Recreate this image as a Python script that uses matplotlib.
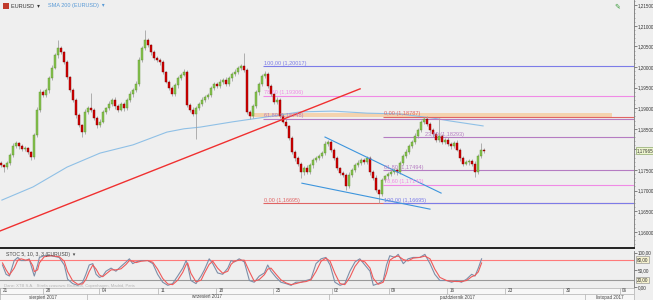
import matplotlib
matplotlib.use('Agg')
import matplotlib.pyplot as plt
import matplotlib.transforms as mtransforms
from matplotlib.patches import Rectangle
from matplotlib.ticker import MultipleLocator, FuncFormatter

plt.rcParams['font.family'] = ['Liberation Sans', 'DejaVu Sans']

W, H = 653, 300

# EURUSD candles (one close per candle, open = previous close)
open0 = 1.1767
closes = [
    1.1762, 1.1757, 1.1767, 1.1786, 1.1808, 1.1816, 1.1808, 1.1801, 1.1803, 1.1794,
    1.1782, 1.1835, 1.1896, 1.1939, 1.1932, 1.1944, 1.1973, 1.1998, 1.2029, 1.2046,
    1.2036, 1.2012, 1.1976, 1.1944, 1.1920, 1.1883, 1.1859, 1.1842, 1.1891, 1.1900,
    1.1896, 1.1876, 1.1859, 1.1867, 1.1891, 1.1900, 1.1910, 1.1920, 1.1905, 1.1896,
    1.1910, 1.1900, 1.1920, 1.1934, 1.1944, 1.1959, 1.2017, 1.2046, 1.2066, 1.2053,
    1.2036, 1.2022, 1.2017, 1.2012, 1.1988, 1.1964, 1.1949, 1.1934, 1.1956, 1.1973,
    1.1981, 1.1988, 1.1908, 1.1896, 1.1886, 1.1900, 1.1910, 1.1920, 1.1927, 1.1932,
    1.1949, 1.1959, 1.1954, 1.1964, 1.1968, 1.1959, 1.1973, 1.1983, 1.1988, 1.1998,
    1.2002, 1.1993, 1.1891, 1.1881, 1.1905, 1.1939, 1.1959, 1.1978, 1.1983, 1.1954,
    1.1934, 1.1915, 1.1920, 1.1881, 1.1867, 1.1857, 1.1828, 1.1794, 1.1779, 1.1765,
    1.1745, 1.1755, 1.1745, 1.1762, 1.1774, 1.1779, 1.1784, 1.1791, 1.1813, 1.1818,
    1.1799, 1.1779, 1.1755, 1.1743, 1.1738, 1.1711, 1.1738, 1.1750, 1.1762, 1.1767,
    1.1774, 1.1769, 1.1779, 1.1745, 1.1731, 1.1701, 1.1692, 1.1726, 1.1735, 1.1740,
    1.1745, 1.1750, 1.1745, 1.1767, 1.1784, 1.1794, 1.1808, 1.1818, 1.1833, 1.1847,
    1.1867, 1.1874, 1.1862, 1.1847, 1.1837, 1.1823, 1.1833, 1.1818, 1.1823, 1.1813,
    1.1808, 1.1816, 1.1799, 1.1779, 1.1765, 1.1769, 1.1772, 1.1765, 1.1745, 1.1784,
    1.1799, 1.17965,
]
# wick lengths in pips above / below the body
up_wick = [
    4, 3, 6, 5, 8, 4, 3, 5, 6, 4,
    3, 5, 6, 8, 4, 6, 5, 7, 4, 20,
    5, 4, 6, 3, 5, 4, 6, 3, 8, 6,
    37, 5, 4, 6, 5, 4, 7, 5, 6, 4,
    5, 6, 4, 7, 5, 6, 8, 6, 24, 5,
    4, 6, 5, 4, 6, 3, 5, 4, 6, 5,
    4, 6, 5, 4, 6, 5, 4, 6, 5, 4,
    6, 5, 4, 6, 5, 7, 4, 5, 6, 4,
    6, 32, 4, 5, 6, 4, 5, 6, 8, 4,
    5, 4, 6, 5, 4, 6, 3, 5, 4, 6,
    4, 5, 6, 4, 5, 6, 4, 5, 8, 6,
    4, 5, 6, 3, 5, 4, 6, 5, 4, 8,
    5, 4, 6, 5, 4, 6, 3, 5, 4, 6,
    5, 4, 6, 5, 4, 6, 5, 4, 6, 5,
    4, 5, 6, 5, 4, 6, 43, 5, 4, 6,
    5, 4, 6, 5, 4, 6, 5, 4, 6, 5,
    17, 4,
]
dn_wick = [
    5, 12, 4, 6, 5, 4, 6, 5, 4, 6,
    7, 5, 4, 6, 5, 4, 6, 5, 4, 6,
    5, 4, 6, 5, 4, 6, 5, 12, 4, 6,
    5, 4, 6, 5, 4, 6, 5, 4, 6, 5,
    4, 6, 5, 4, 6, 5, 4, 6, 5, 4,
    6, 5, 4, 6, 5, 4, 6, 5, 4, 6,
    5, 4, 6, 5, 4, 60, 5, 4, 6, 5,
    4, 6, 5, 4, 6, 5, 4, 6, 5, 4,
    6, 5, 4, 8, 5, 4, 6, 5, 4, 6,
    5, 4, 6, 5, 4, 6, 5, 4, 6, 5,
    15, 6, 5, 4, 6, 5, 4, 6, 5, 4,
    6, 5, 4, 6, 5, 10, 4, 6, 5, 4,
    6, 5, 4, 6, 5, 4, 22, 5, 4, 6,
    5, 4, 6, 5, 4, 6, 5, 4, 6, 5,
    4, 6, 5, 4, 6, 5, 4, 6, 5, 4,
    6, 5, 4, 6, 5, 4, 6, 5, 12, 4,
    6, 5,
]

# SMA 200 (candle index, value)
sma_idx = [0.3, 10.7, 22, 33, 44, 55.3, 61, 66.3, 77.3, 88.7, 99.7, 110.7, 122, 133, 144, 149.7, 160.7]
sma_val = [1.1677, 1.1709, 1.1757, 1.1791, 1.1811, 1.1842, 1.1850, 1.1854, 1.1867, 1.1879,
           1.1891, 1.1893, 1.1888, 1.1886, 1.1876, 1.1869, 1.1857]

# trend lines drawn on the chart
red_line_x, red_line_y = [-0.33, 119.7], [1.1602, 1.1947]
chan_up_x, chan_up_y = [108, 146.7], [1.1830, 1.1694]
chan_lo_x, chan_lo_y = [100.3, 143], [1.1718, 1.1655]

# supply zone
zone_x = [83, 203.7]
zone_y = [1.18787, 1.18890]

# fibonacci retracements
fib1_start = 87.3
fib1_pct = [100.0, 78.6, 61.8, 0.0]
fib1_val = [1.20017, 1.19306, 1.18748, 1.16695]
fib2_start = 127.3
fib2_pct = [0.0, 23.6, 61.8, 78.6, 100.0]
fib2_val = [1.18787, 1.18293, 1.17494, 1.17143, 1.16695]
fib2_label_x = [127.5, 141.3, 127.5, 127.5, 127.5]

# stochastic oscillator
stoch_idx = [0.5, 1.7, 2.8, 4.4, 5.6, 6.7, 8.3, 9.4, 10.6, 11.1, 12.2, 12.8, 14.4, 16.7, 19.4,
             21.1, 22.2, 23.9, 25.6, 27.2, 28.3, 29.4, 30.6, 31.7, 32.8, 33.9, 35, 36.7, 38.3,
             40, 41.7, 42.8, 43.9, 45, 46.7, 48.9, 50.6, 52.2, 53.9, 55.6, 57.2, 58.9, 60.6,
             61.7, 62.2, 63.3, 65, 66.7, 67.8, 69.4, 70.6, 72.2, 73.9, 75.6, 76.7, 77.8, 79.4,
             81.1, 82.8, 84.4, 86.1, 87.8, 88.9, 90, 91.7, 93.3, 95, 96.7, 98.3, 100, 101.7,
             103.3, 105, 106.7, 108.3, 109.7, 111.3, 113, 114.6, 116.3, 118, 119.6, 121.3, 123,
             124.1, 125.7, 127.4, 128.5, 129.6, 131.3, 132.4, 134.1, 135.7, 137.4, 139.6, 141.3,
             143, 144.6, 146.3, 148.5, 150.2, 151.9, 153.5, 155.2, 156.9, 158, 159.1, 160.2]
stoch_k = [64, 37, 32, 77, 86, 77, 77, 82, 46, 32, 64, 86, 91, 91, 86,
           64, 23, 10, 5, 14, 37, 64, 68, 37, 28, 32, 46, 55, 46,
           60, 73, 82, 68, 73, 77, 77, 68, 37, 14, 5, 10, 32, 55,
           77, 64, 19, 10, 32, 50, 82, 68, 41, 37, 55, 77, 73, 82,
           73, 19, 14, 32, 41, 64, 46, 28, 14, 10, 5, 14, 14, 19,
           23, 68, 82, 86, 64, 14, 5, 10, 46, 73, 82, 64, 46,
           5, 10, 19, 64, 91, 86, 95, 68, 82, 86, 86, 95,
           68, 37, 19, 19, 14, 19, 14, 23, 37, 32, 55, 82]
stoch_d = [70, 50, 35, 55, 78, 82, 78, 80, 62, 45, 50, 70, 88, 91, 88,
           75, 45, 18, 8, 9, 22, 45, 64, 52, 35, 30, 38, 50, 50,
           53, 66, 77, 75, 71, 75, 77, 72, 52, 25, 9, 7, 20, 43,
           65, 70, 40, 15, 20, 40, 66, 75, 55, 40, 46, 66, 75, 78,
           78, 45, 17, 22, 36, 52, 55, 37, 21, 12, 7, 10, 14, 16,
           21, 45, 75, 84, 75, 40, 10, 7, 28, 60, 78, 73, 55,
           25, 8, 14, 40, 78, 88, 90, 80, 76, 84, 86, 90,
           82, 52, 28, 19, 17, 16, 16, 19, 30, 34, 44, 70]

# time axis
date_pos = [-0.3, 14, 32.7, 52.3, 71.7, 90.7, 110.3, 129.3, 148.7, 168, 187.3, 206.3]
date_lbl = ['21', '28', '04', '11', '18', '25', '02', '09', '16', '23', '30', '06']
month_sep = [28.7, 109.3, 194.7]
month_pos = [14, 68.7, 152, 203]
month_lbl = ['sierpień 2017', 'wrzesień 2017', 'październik 2017', 'listopad 2017']

BG = '#efefef'
fig = plt.figure(figsize=(W / 100, H / 100), dpi=100, facecolor=BG)
XL = (-1 / 3, 211)
YL = (1.15607, 1.21626)

ax = fig.add_axes([0, 52 / H, 634 / W, 248 / H], facecolor=BG)
ax.set_xlim(*XL)
ax.set_ylim(*YL)

fs = 4.0   # labels on the chart
fa = 3.3   # right-hand axis labels


def fmt_price(v):
    return f'{v:.5f}'.replace('.', ',')


# candles
opens = [open0] + closes[:-1]
for i, (o, c) in enumerate(zip(opens, closes)):
    hi = max(o, c) + up_wick[i] / 1e4
    lo = min(o, c) - dn_wick[i] / 1e4
    ax.vlines(i, lo, hi, color='#a3a3a3', lw=0.6, zorder=3)
    col = '#86c34e' if c >= o else '#d40000'
    ec = '#5e8f30' if c >= o else '#7a0000'
    ax.bar(i, max(abs(c - o), 0.00008), bottom=min(o, c), width=0.6,
           color=col, edgecolor=ec, lw=0.3, zorder=4)

ax.plot(sma_idx, sma_val, color='#8fc0e6', lw=0.8, zorder=2)
ax.plot(red_line_x, red_line_y, color='#f03030', lw=1.0, zorder=5)
ax.plot(chan_up_x, chan_up_y, color='#3d95dd', lw=0.8, zorder=5)
ax.plot(chan_lo_x, chan_lo_y, color='#3d95dd', lw=0.8, zorder=5)

ax.add_patch(Rectangle((zone_x[0], zone_y[0]), zone_x[1] - zone_x[0], zone_y[1] - zone_y[0],
                       facecolor='#f6cfa3', edgecolor='none', alpha=0.85, zorder=1))


def fib_color(p):
    if p == 100.0:
        return '#7c7ce8'
    if p == 78.6:
        return '#f08ae6'
    if p == 0.0:
        return '#e06464'
    return '#b57cc2'


for p, v in zip(fib1_pct, fib1_val):
    ax.hlines(v, fib1_start, XL[1], color=fib_color(p), lw=0.8, zorder=2)
    ax.text(fib1_start + 0.5, v + 0.00015, f'{p:.2f}'.replace('.', ',') + ' (' + fmt_price(v) + ')',
            fontsize=fs, color=fib_color(p), va='bottom', ha='left', zorder=6)
for p, v, lx in zip(fib2_pct, fib2_val, fib2_label_x):
    ax.hlines(v, fib2_start, XL[1], color=fib_color(p), lw=0.8, zorder=2)
    ax.text(lx, v + 0.00015, f'{p:.2f}'.replace('.', ',') + ' (' + fmt_price(v) + ')',
            fontsize=fs, color=fib_color(p), va='bottom', ha='left', zorder=6)

# axes styling
for s in ['left', 'top']:
    ax.spines[s].set_visible(False)
ax.spines['right'].set_color('#777777')
ax.spines['right'].set_linewidth(0.6)
ax.spines['bottom'].set_color('#222222')
ax.spines['bottom'].set_linewidth(1.4)
ax.set_xticks([])
ax.yaxis.tick_right()
ax.set_yticks([1.160 + 0.005 * k for k in range(12)])
ax.yaxis.set_major_formatter(FuncFormatter(lambda v, pos: fmt_price(v)))
ax.yaxis.set_minor_locator(MultipleLocator(0.001))
ax.tick_params(axis='y', which='major', labelsize=fa, length=2, width=0.5, pad=0.8,
               colors='#555555', labelcolor='#333333')
ax.tick_params(axis='y', which='minor', length=1, width=0.4, colors='#777777')

# current price box
trp = mtransforms.blended_transform_factory(ax.transAxes, ax.transData)
ax.text(1.005, closes[-1], fmt_price(closes[-1]), transform=trp,
        fontsize=fa, color='#333333', va='center', ha='left', clip_on=False,
        bbox=dict(boxstyle='square,pad=0.2', facecolor='#eef6cf', edgecolor='#8da86a', lw=0.5))

# header
fig.add_artist(Rectangle((3 / W, 1 - 9 / H), 6 / W, 6 / H, transform=fig.transFigure,
                         facecolor='#c0392b', edgecolor='none'))
fig.text(11 / W, 1 - 6 / H, 'EURUSD  \u25be', fontsize=fs, color='#333333', va='center',
         family=['Liberation Sans', 'DejaVu Sans'])
fig.text(48 / W, 1 - 6 / H, 'SMA 200 (EURUSD)  \u25be', fontsize=fs, color='#5a9ad6', va='center',
         family=['Liberation Sans', 'DejaVu Sans'])
fig.text(614 / W, 1 - 6 / H, '\u270e', fontsize=5, color='#3a9a3a', va='center', family='DejaVu Sans')

# stochastic panel
ax2 = fig.add_axes([0, 12 / H, 634 / W, 37 / H], facecolor=BG)
ax2.set_xlim(*XL)
ax2.set_ylim(-2.75, 104.7)
ax2.axhline(80, color='#ff7a7a', lw=0.8)
ax2.axhline(20, color='#9a9a9a', lw=0.8)
ax2.plot(stoch_idx, stoch_k, color='#7d8ea8', lw=0.8)
ax2.plot(stoch_idx, stoch_d, color='#f05a5a', lw=0.8)
ax2.text(1.5, 95, 'STOC 5, 10, 3, 3 (EURUSD)  \u25be', fontsize=fs - 0.3, color='#444444', va='center',
         family=['Liberation Sans', 'DejaVu Sans'])
ax2.text(1, 4, 'Dane: XTB S.A.   Strefa czasowa: Brussels, Copenhagen, Madrid, Paris',
         fontsize=fs - 1, color='#b5b5b5', va='center')
for s in ['left', 'top']:
    ax2.spines[s].set_visible(False)
ax2.spines['right'].set_color('#777777')
ax2.spines['right'].set_linewidth(0.6)
ax2.spines['bottom'].set_color('#999999')
ax2.spines['bottom'].set_linewidth(0.6)
ax2.set_xticks([])
ax2.yaxis.tick_right()
ax2.set_yticks([0, 50, 100])
ax2.set_yticklabels(['0,00', '50,00', '100,00'])
ax2.tick_params(axis='y', labelsize=fa, length=2, width=0.5, pad=0.8,
                colors='#555555', labelcolor='#333333')
tr2 = mtransforms.blended_transform_factory(ax2.transAxes, ax2.transData)
for lv in [80, 20]:
    ax2.text(1.005, lv, f'{lv},00', transform=tr2, fontsize=fa, color='#333333',
             va='center', ha='left', clip_on=False,
             bbox=dict(boxstyle='square,pad=0.15', facecolor='#f6f2cf', edgecolor='#999999', lw=0.5))

# time axis
ax3 = fig.add_axes([0, 0, 634 / W, 12 / H], facecolor='#f7f7f7')
ax3.set_xlim(*XL)
ax3.set_ylim(0, 2)
ax3.axhline(1, color='#b0b0b0', lw=0.5)
for p, l in zip(date_pos, date_lbl):
    ax3.vlines(p, 1, 2, color='#b0b0b0', lw=0.5)
    ax3.text(p + 0.8, 1.5, l, fontsize=fa, color='#444444', va='center', ha='left')
for p in month_sep:
    ax3.vlines(p, 0, 1, color='#b0b0b0', lw=0.5)
for p, l in zip(month_pos, month_lbl):
    ax3.text(p, 0.5, l, fontsize=fa, color='#444444', va='center', ha='center')
for s in ax3.spines.values():
    s.set_color('#b0b0b0')
    s.set_linewidth(0.5)
ax3.set_xticks([])
ax3.set_yticks([])

fig.savefig('out.png', dpi=100, facecolor=BG)
